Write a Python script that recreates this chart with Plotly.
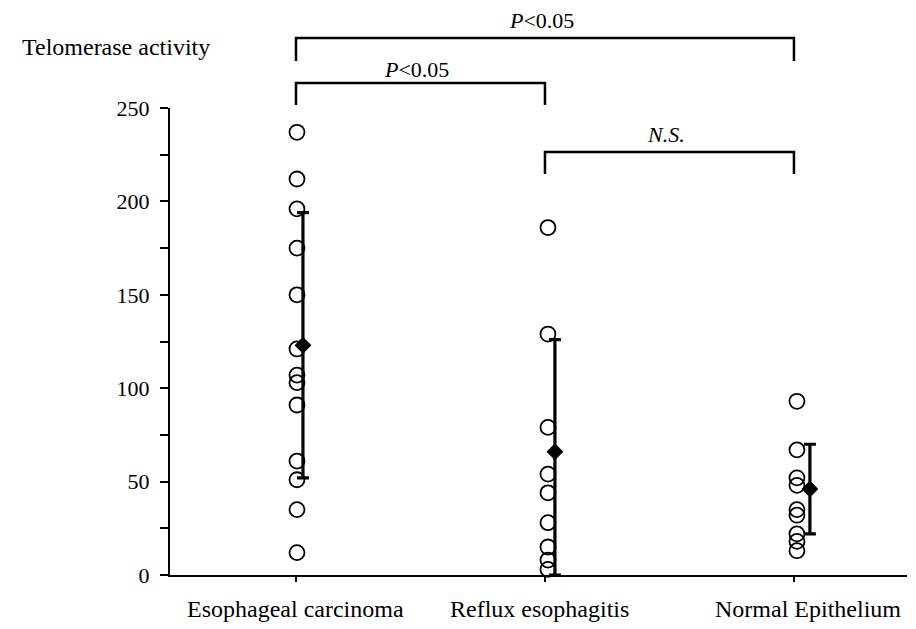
import plotly.graph_objects as go

categories = ["Esophageal carcinoma", "Reflux esophagitis", "Normal Epithelium"]
esophageal = [237, 212, 196, 175, 150, 121, 107, 103, 91, 61, 51, 35, 12]
reflux = [186, 129, 79, 54, 44, 28, 15, 8, 3]
normal = [93, 67, 52, 48, 35, 32, 22, 18, 13]
means = [123, 66, 46]
sd_plus = [71, 60, 24]
sd_minus = [71, 66, 24]
y_tickvals = [0, 25, 50, 75, 100, 125, 150, 175, 200, 225, 250]
y_ticktext = ["0", "", "50", "", "100", "", "150", "", "200", "", "250"]
comparisons = [(0, 2, "<i>P</i>&lt;0.05"), (0, 1, "<i>P</i>&lt;0.05"), (1, 2, "<i>N.S.</i>")]

FONT = "Liberation Serif"
pt_offsets = [0.004, 0.012, 0.012]
mean_offsets = [0.028, 0.04, 0.064]
label_offsets = [0.0, -0.02, 0.055]
XMIN, XMAX = -0.506, 2.454

fig = go.Figure()
groups = [esophageal, reflux, normal]
for i, vals in enumerate(groups):
    fig.add_trace(go.Scatter(
        x=[i + pt_offsets[i]] * len(vals), y=vals, mode="markers",
        marker=dict(symbol="circle-open", size=15, color="black", line=dict(width=1.8, color="black")),
        showlegend=False, hoverinfo="y", cliponaxis=False))

fig.add_trace(go.Scatter(
    x=[i + mean_offsets[i] for i in range(3)], y=means, mode="markers",
    marker=dict(symbol="diamond", size=13, color="black"),
    error_y=dict(type="data", symmetric=False, array=sd_plus, arrayminus=sd_minus,
                 color="black", thickness=3.2, width=6),
    showlegend=False, cliponaxis=False))

def xp(v):
    return (v - XMIN) / (XMAX - XMIN)

# bracket geometry (paper coords): (top y, leg bottom y, label y)
bracket_geo = [(1.1499, 1.1006, 1.188), (1.0535, 1.0064, 1.083), (0.9058, 0.8587, 0.944)]
shapes = []
annotations = []
for (a, b, label), (yt, yb, yl) in zip(comparisons, bracket_geo):
    xa, xb = xp(a), xp(b)
    shapes.append(dict(type="path", xref="paper", yref="paper",
                       path=f"M {xa},{yb} L {xa},{yt} L {xb},{yt} L {xb},{yb}",
                       line=dict(color="black", width=2.5)))
    annotations.append(dict(x=(xa + xb) / 2 - 0.005, y=yl, xref="paper", yref="paper",
                            xanchor="center", yanchor="middle",
                            text=label, showarrow=False,
                            font=dict(family=FONT, size=22, color="black")))

annotations.append(dict(x=-0.2035, y=1.1306, xref="paper", yref="paper",
                        xanchor="left", yanchor="middle",
                        text="Telomerase activity", showarrow=False,
                        font=dict(family=FONT, size=24, color="black")))

# category labels under the axis
for i, name in enumerate(categories):
    annotations.append(dict(x=i + label_offsets[i], y=-0.072, xref="x", yref="paper",
                            xanchor="center", yanchor="middle", text=name, showarrow=False,
                            font=dict(family=FONT, size=24, color="black")))

fig.update_layout(
    width=916, height=629,
    margin=dict(l=162, r=17, t=100, b=62),
    paper_bgcolor="white", plot_bgcolor="white",
    shapes=shapes, annotations=annotations,
    xaxis=dict(range=[XMIN, XMAX], tickvals=[0, 1, 2], ticktext=["", "", ""],
               showline=True, linecolor="black", linewidth=2, ticks="outside",
               ticklen=5, tickwidth=1.5, tickcolor="black", showgrid=False, zeroline=False),
    yaxis=dict(range=[0, 250], tickvals=y_tickvals, ticktext=y_ticktext,
               showline=True, linecolor="black", linewidth=2, ticks="outside",
               ticklen=8, tickwidth=1.5, tickcolor="black", showgrid=False, zeroline=False,
               tickfont=dict(family=FONT, size=22, color="black"), ticklabelstandoff=6),
)

fig.write_html("out.html")
